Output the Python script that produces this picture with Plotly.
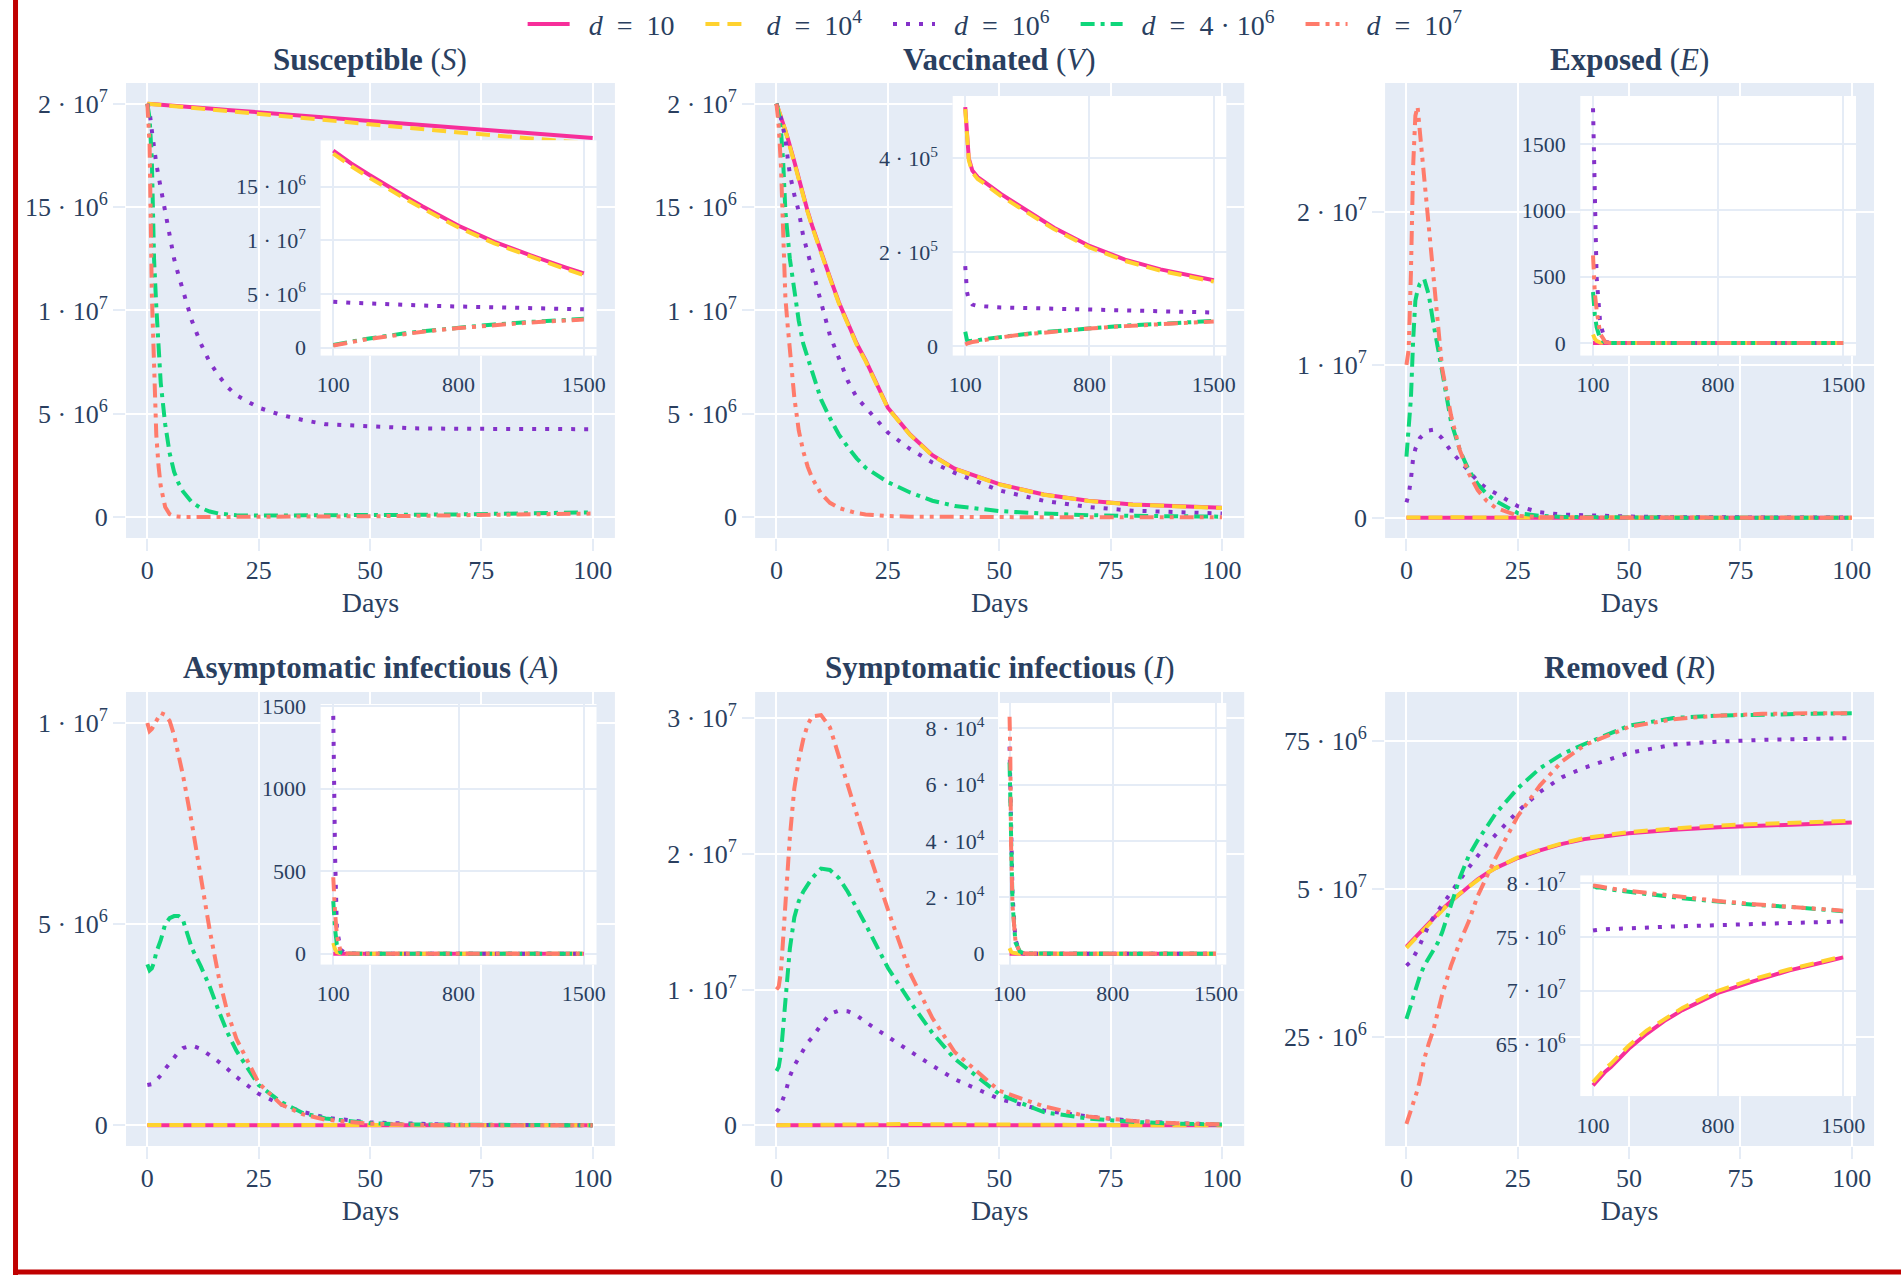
import plotly.graph_objects as go

# ---------------- data ----------------
T = [0, 0.5, 1, 1.5, 2, 2.5, 3, 4, 5, 6, 7, 8, 10, 12, 14, 16, 18, 20, 25, 30, 35, 40, 50, 60, 70, 80, 90, 100]
D = [100, 105, 110, 120, 140, 170, 200, 300, 400, 500, 600, 800, 1000, 1200, 1400, 1500]

# Susceptible (millions)
S_d10 = [20.00, 20.00, 19.98, 19.98, 19.97, 19.96, 19.95, 19.93, 19.92, 19.90, 19.88, 19.87, 19.83, 19.80, 19.77, 19.73, 19.70, 19.67, 19.58, 19.50, 19.42, 19.33, 19.16, 19.00, 18.83, 18.67, 18.50, 18.34]
S_d1e4 = [20.00, 19.99, 19.98, 19.97, 19.96, 19.95, 19.94, 19.92, 19.90, 19.88, 19.86, 19.84, 19.80, 19.76, 19.72, 19.68, 19.64, 19.60, 19.50, 19.40, 19.30, 19.20, 19.00, 18.80, 18.61, 18.43, 18.25, 18.07]
S_d1e6 = [20.0, 19.6, 18.7, 17.8, 17.1, 16.5, 15.9, 14.9, 13.6, 12.5, 11.7, 11.0, 9.5, 8.4, 7.5, 6.85, 6.3, 5.9, 5.3, 4.95, 4.7, 4.5, 4.38, 4.3, 4.28, 4.27, 4.26, 4.26]
S_d4e6 = [20.0, 19.3, 17.3, 12.5, 10.2, 8.2, 6.5, 4.5, 3.1, 2.2, 1.65, 1.25, 0.72, 0.45, 0.28, 0.18, 0.12, 0.1, 0.08, 0.08, 0.08, 0.09, 0.1, 0.12, 0.14, 0.17, 0.2, 0.24]
S_d1e7 = [20.0, 18.0, 10.8, 7.0, 4.0, 2.5, 1.5, 0.5, 0.15, 0.05, 0.02, 0.01, 0.01, 0.01, 0.01, 0.01, 0.01, 0.02, 0.02, 0.03, 0.03, 0.04, 0.05, 0.07, 0.09, 0.12, 0.15, 0.18]
S_in_d10 = [18.34, 18.28, 18.22, 18.1, 17.85, 17.5, 17.15, 16.1, 15.05, 14.1, 13.15, 11.35, 9.85, 8.6, 7.45, 6.9]
S_in_d1e4 = [18.07, 18.01, 17.95, 17.83, 17.6, 17.25, 16.9, 15.85, 14.82, 13.88, 12.95, 11.18, 9.7, 8.47, 7.3, 6.75]
S_in_d1e6 = [4.26, 4.25, 4.25, 4.24, 4.22, 4.2, 4.17, 4.09, 4.02, 3.96, 3.91, 3.82, 3.74, 3.67, 3.6, 3.56]
S_in_d4e6 = [0.24, 0.26, 0.28, 0.31, 0.37, 0.46, 0.55, 0.84, 1.1, 1.32, 1.52, 1.87, 2.15, 2.38, 2.58, 2.67]
S_in_d1e7 = [0.18, 0.2, 0.22, 0.26, 0.32, 0.41, 0.5, 0.8, 1.05, 1.27, 1.47, 1.82, 2.1, 2.33, 2.52, 2.6]

# Vaccinated (millions; inset in 1e5)
V_d10 = [20.0, 19.7, 19.4, 19.0, 18.7, 18.35, 18.0, 17.2, 16.4, 15.5, 14.8, 14.1, 12.8, 11.6, 10.4, 9.4, 8.4, 7.6, 5.3, 4.0, 3.0, 2.35, 1.6, 1.1, 0.8, 0.62, 0.52, 0.46]
V_d1e4 = [20.0, 19.7, 19.4, 19.0, 18.7, 18.3, 17.95, 17.15, 16.35, 15.45, 14.75, 14.05, 12.75, 11.55, 10.35, 9.35, 8.35, 7.55, 5.28, 3.98, 2.98, 2.34, 1.59, 1.09, 0.79, 0.61, 0.51, 0.45]
V_d1e6 = [20.0, 19.7, 19.3, 18.8, 18.3, 17.4, 16.6, 15.6, 14.8, 13.6, 12.8, 12.1, 10.4, 8.8, 7.7, 6.6, 5.8, 5.3, 4.1, 3.3, 2.65, 2.15, 1.3, 0.8, 0.5, 0.32, 0.24, 0.18]
V_d4e6 = [20.0, 19.5, 18.7, 17.2, 14.8, 13.6, 12.5, 11.0, 9.5, 8.4, 7.7, 7.1, 5.7, 4.8, 4.0, 3.4, 2.85, 2.4, 1.7, 1.2, 0.8, 0.55, 0.3, 0.18, 0.1, 0.07, 0.04, 0.03]
V_d1e7 = [20.0, 18.9, 17.0, 13.0, 10.6, 9.3, 8.2, 5.8, 4.2, 3.2, 2.45, 1.9, 1.15, 0.7, 0.45, 0.3, 0.2, 0.14, 0.06, 0.03, 0.02, 0.01, 0.01, 0.0, 0.0, 0.0, 0.0, 0.0]
V_in_d10 = [5.09, 4.75, 4.45, 4.0, 3.74, 3.6, 3.52, 3.24, 3.0, 2.76, 2.52, 2.13, 1.84, 1.63, 1.47, 1.40]
V_in_d1e4 = [5.05, 4.71, 4.41, 3.96, 3.7, 3.56, 3.48, 3.2, 2.96, 2.72, 2.49, 2.1, 1.81, 1.6, 1.44, 1.37]
V_in_d1e6 = [1.70, 1.35, 1.15, 0.98, 0.88, 0.85, 0.84, 0.82, 0.81, 0.8, 0.79, 0.77, 0.75, 0.73, 0.72, 0.71]
V_in_d4e6 = [0.30, 0.18, 0.12, 0.1, 0.1, 0.12, 0.14, 0.19, 0.24, 0.28, 0.31, 0.38, 0.43, 0.47, 0.51, 0.53]
V_in_d1e7 = [0.03, 0.04, 0.05, 0.06, 0.08, 0.1, 0.12, 0.18, 0.23, 0.27, 0.3, 0.37, 0.42, 0.46, 0.5, 0.52]

# Exposed (millions; inset raw)
E_d10 = [0.0, 0.0, 0.0, 0.0, 0.0, 0.0, 0.0, 0.0, 0.0, 0.0, 0.0, 0.0, 0.0, 0.0, 0.0, 0.0, 0.0, 0.0, 0.0, 0.0, 0.0, 0.0, 0.0, 0.0, 0.0, 0.0, 0.0, 0.0]
E_d1e4 = [0.01, 0.013, 0.018, 0.022, 0.026, 0.029, 0.031, 0.033, 0.033, 0.032, 0.03, 0.028, 0.024, 0.02, 0.017, 0.014, 0.012, 0.01, 0.006, 0.004, 0.002, 0.001, 0.0005, 0.0002, 0.0001, 0.0001, 0.0001, 0.0001]
E_d1e6 = [1.0, 1.5, 2.5, 3.9, 4.5, 4.9, 5.2, 5.5, 5.7, 5.75, 5.5, 5.2, 4.35, 3.7, 3.1, 2.4, 1.9, 1.6, 0.75, 0.35, 0.2, 0.15, 0.07, 0.03, 0.02, 0.01, 0.01, 0.0]
E_d4e6 = [4.0, 5.6, 7.8, 11.6, 14.2, 14.9, 15.3, 15.6, 14.6, 12.8, 11.3, 9.6, 6.3, 4.4, 3.1, 2.2, 1.55, 1.1, 0.3, 0.12, 0.05, 0.02, 0.01, 0.0, 0.0, 0.0, 0.0, 0.0]
E_d1e7 = [10.0, 11.0, 16.0, 23.0, 26.3, 26.9, 25.3, 22.3, 19.2, 16.1, 12.8, 9.8, 6.7, 4.4, 2.9, 1.8, 1.1, 0.65, 0.12, 0.03, 0.01, 0.0, 0.0, 0.0, 0.0, 0.0, 0.0, 0.0]
E_in_d10 = [0.06, 0.04, 0.03, 0.01, 0.0, 0.0, 0.0, 0.0, 0.0, 0.0, 0.0, 0.0, 0.0, 0.0, 0.0, 0.0]
E_in_d1e4 = [64, 45, 32, 16, 4, 0.5, 0.05, 0, 0, 0, 0, 0, 0, 0, 0, 0]
E_in_d1e6 = [1770, 1350, 930, 500, 150, 8, 0.5, 0, 0, 0, 0, 0, 0, 0, 0, 0]
E_in_d4e6 = [385, 290, 215, 120, 30, 3, 0.2, 0, 0, 0, 0, 0, 0, 0, 0, 0]
E_in_d1e7 = [660, 500, 380, 250, 70, 6, 0.5, 0, 0, 0, 0, 0, 0, 0, 0, 0]

# Asymptomatic infectious (millions; inset raw)
A_d10 = [0.0, 0.0, 0.0, 0.0, 0.0, 0.0, 0.0, 0.0, 0.0, 0.0, 0.0, 0.0, 0.0, 0.0, 0.0, 0.0, 0.0, 0.0, 0.0, 0.0, 0.0, 0.0, 0.0, 0.0, 0.0, 0.0, 0.0, 0.0]
A_d1e4 = [0.01, 0.01, 0.012, 0.014, 0.016, 0.018, 0.02, 0.022, 0.024, 0.025, 0.025, 0.025, 0.023, 0.02, 0.017, 0.014, 0.012, 0.01, 0.006, 0.004, 0.002, 0.001, 0.0005, 0.0002, 0.0001, 0.0001, 0.0001, 0.0001]
A_d1e6 = [1.0, 1.0, 1.02, 1.06, 1.12, 1.18, 1.24, 1.4, 1.55, 1.7, 1.82, 1.92, 1.98, 1.9, 1.75, 1.58, 1.4, 1.2, 0.78, 0.52, 0.33, 0.19, 0.07, 0.03, 0.01, 0.01, 0.0, 0.0]
A_d4e6 = [4.0, 3.85, 3.9, 4.05, 4.3, 4.45, 4.6, 5.0, 5.15, 5.2, 5.2, 5.1, 4.4, 3.95, 3.45, 2.85, 2.3, 1.85, 1.0, 0.58, 0.3, 0.17, 0.05, 0.02, 0.01, 0.0, 0.0, 0.0]
A_d1e7 = [10.0, 9.8, 9.85, 9.95, 10.1, 10.2, 10.25, 10.2, 10.05, 9.7, 9.2, 8.7, 7.5, 6.2, 4.85, 3.7, 2.8, 2.15, 1.05, 0.52, 0.27, 0.14, 0.04, 0.01, 0.0, 0.0, 0.0, 0.0]
A_in_d10 = [0.1, 0.06, 0.04, 0.02, 0.0, 0.0, 0.0, 0.0, 0.0, 0.0, 0.0, 0.0, 0.0, 0.0, 0.0, 0.0]
A_in_d1e4 = [65, 42, 28, 10, 2, 0, 0, 0, 0, 0, 0, 0, 0, 0, 0, 0]
A_in_d1e6 = [1440, 950, 600, 160, 25, 1, 0, 0, 0, 0, 0, 0, 0, 0, 0, 0]
A_in_d4e6 = [318, 220, 150, 55, 8, 0.5, 0, 0, 0, 0, 0, 0, 0, 0, 0, 0]
A_in_d1e7 = [463, 340, 250, 110, 18, 1, 0, 0, 0, 0, 0, 0, 0, 0, 0, 0]

# Symptomatic infectious (millions; inset in 1e3)
I_d10 = [0.0, 0.0, 0.0, 0.0, 0.0, 0.0, 0.0, 0.0, 0.0, 0.0, 0.0, 0.0, 0.0, 0.0, 0.0, 0.0, 0.0, 0.0, 0.0, 0.0, 0.0, 0.0, 0.0, 0.0, 0.0, 0.0, 0.0, 0.0]
I_d1e4 = [0.01, 0.012, 0.015, 0.02, 0.025, 0.03, 0.035, 0.045, 0.055, 0.065, 0.075, 0.085, 0.1, 0.11, 0.115, 0.12, 0.12, 0.118, 0.11, 0.1, 0.085, 0.07, 0.05, 0.03, 0.02, 0.01, 0.005, 0.002]
I_d1e6 = [1.0, 1.2, 1.55, 1.95, 2.4, 3.0, 3.6, 4.4, 5.0, 5.6, 6.1, 6.45, 7.4, 8.2, 8.45, 8.4, 8.1, 7.6, 6.5, 5.45, 4.4, 3.4, 1.95, 1.1, 0.65, 0.33, 0.15, 0.07]
I_d4e6 = [4.0, 4.3, 5.3, 7.4, 9.7, 11.5, 13.0, 15.3, 16.5, 17.2, 17.7, 18.2, 18.9, 18.8, 18.2, 17.2, 16.0, 14.8, 11.6, 9.1, 6.8, 4.9, 2.3, 0.97, 0.5, 0.26, 0.12, 0.07]
I_d1e7 = [10.0, 10.2, 11.3, 13.9, 16.6, 19.0, 21.2, 24.8, 26.9, 28.4, 29.5, 30.1, 30.2, 29.3, 27.2, 24.9, 22.9, 20.8, 15.9, 11.2, 7.9, 5.4, 2.55, 1.4, 0.65, 0.33, 0.15, 0.08]
I_in_d10 = [0.002, 0.001, 0.0, 0.0, 0.0, 0.0, 0.0, 0.0, 0.0, 0.0, 0.0, 0.0, 0.0, 0.0, 0.0, 0.0]
I_in_d1e4 = [2.0, 1.2, 0.8, 0.4, 0.1, 0.0, 0.0, 0.0, 0.0, 0.0, 0.0, 0.0, 0.0, 0.0, 0.0, 0.0]
I_in_d1e6 = [73.5, 59, 39, 21, 5, 0.5, 0, 0, 0, 0, 0, 0, 0, 0, 0, 0]
I_in_d4e6 = [67.9, 52, 35, 18, 4, 0.8, 0.1, 0, 0, 0, 0, 0, 0, 0, 0, 0]
I_in_d1e7 = [84.1, 71, 39, 17, 4.5, 0.4, 0.05, 0, 0, 0, 0, 0, 0, 0, 0, 0]

# Removed (millions)
R_d10 = [40.2, 40.6, 41.0, 41.4, 41.8, 42.1, 42.4, 43.2, 44.0, 45.0, 45.7, 46.5, 47.9, 49.2, 50.4, 51.6, 52.6, 53.5, 55.2, 56.5, 57.6, 58.4, 59.4, 60.0, 60.4, 60.7, 61.0, 61.2]
R_d1e4 = [40.0, 40.4, 40.9, 41.3, 41.7, 42.0, 42.4, 43.2, 44.0, 44.9, 45.7, 46.5, 47.9, 49.2, 50.4, 51.6, 52.6, 53.5, 55.3, 56.6, 57.7, 58.6, 59.6, 60.2, 60.7, 61.0, 61.3, 61.5]
R_d1e6 = [37.0, 37.3, 37.7, 38.3, 38.9, 39.7, 40.5, 42.3, 43.8, 45.1, 46.2, 47.2, 49.4, 51.5, 53.6, 55.6, 57.5, 59.1, 63.1, 66.4, 68.9, 70.5, 73.0, 74.4, 74.9, 75.2, 75.4, 75.5]
R_d4e6 = [28.0, 29.0, 30.3, 31.6, 32.8, 34.0, 35.2, 37.0, 38.3, 39.5, 40.8, 42.6, 47.5, 51.9, 55.6, 58.2, 60.4, 62.7, 67.0, 70.4, 72.8, 74.5, 77.6, 78.9, 79.3, 79.5, 79.6, 79.7]
R_d1e7 = [10.2, 11.3, 12.3, 13.4, 14.5, 16.0, 17.5, 21.2, 23.8, 26.0, 29.0, 32.0, 37.0, 41.0, 44.5, 48.8, 52.0, 55.2, 62.3, 67.5, 71.6, 74.3, 77.4, 78.7, 79.3, 79.6, 79.7, 79.7]
R_in_d10 = [61.2, 61.3, 61.4, 61.6, 62.0, 62.5, 62.9, 64.6, 66.0, 67.2, 68.2, 69.8, 70.9, 71.9, 72.7, 73.1]
R_in_d1e4 = [61.5, 61.6, 61.7, 61.9, 62.3, 62.8, 63.2, 64.9, 66.3, 67.4, 68.4, 70.0, 71.1, 72.0, 72.8, 73.2]
R_in_d1e6 = [75.6, 75.6, 75.65, 75.65, 75.7, 75.7, 75.75, 75.8, 75.9, 75.95, 76.0, 76.1, 76.2, 76.3, 76.4, 76.45]
R_in_d4e6 = [79.7, 79.7, 79.7, 79.6, 79.6, 79.5, 79.4, 79.2, 79.0, 78.8, 78.6, 78.3, 78.0, 77.8, 77.5, 77.4]
R_in_d1e7 = [79.8, 79.8, 79.8, 79.75, 79.7, 79.6, 79.5, 79.3, 79.1, 78.9, 78.7, 78.35, 78.05, 77.8, 77.55, 77.45]

SERIES_NAMES = [
    "<i>d</i>&nbsp;&nbsp;=&nbsp;&nbsp;10",
    "<i>d</i>&nbsp;&nbsp;=&nbsp;&nbsp;10<sup>4</sup>",
    "<i>d</i>&nbsp;&nbsp;=&nbsp;&nbsp;10<sup>6</sup>",
    "<i>d</i>&nbsp;&nbsp;=&nbsp;&nbsp;4 · 10<sup>6</sup>",
    "<i>d</i>&nbsp;&nbsp;=&nbsp;&nbsp;10<sup>7</sup>",
]
MAIN_X_TICKS = [0, 25, 50, 75, 100]
INSET_X_TICKS = [100, 800, 1500]

# ---------------- style ----------------
FONT = "Liberation Serif"
NAVY = "#2a3f5f"
BG = "#E5ECF6"
COLORS = ["#F72E9A", "#FFD22E", "#8431C9", "#0ED67A", "#FF7B6B"]
DASHES = ["solid", "14px,8px", "4px,9px", "14px,6px,4px,6px", "14px,6px,4px,6px,4px,6px"]
LW = 4

COLS = [[0.0, 0.2797], [0.3599, 0.6397], [0.7203, 1.0]]
ROWS = [[0.572, 1.0], [0.0, 0.4271]]
INSET_X_RANGE = [28, 1572]


def sup(a, e):
    return f"{a} · 10<sup>{e}</sup>"


panels = [
    dict(title="<b>Susceptible</b> (<i>S</i>)", col=0, row=0,
         main=[S_d10, S_d1e4, S_d1e6, S_d4e6, S_d1e7],
         inset=[S_in_d10, S_in_d1e4, S_in_d1e6, S_in_d4e6, S_in_d1e7],
         yr=[-1.0, 21.0], ytv=[0, 5, 10, 15, 20],
         ytt=["0", sup(5, 6), sup(1, 7), sup(15, 6), sup(2, 7)],
         iyr=[-0.76, 19.31], iytv=[0, 5, 10, 15],
         iytt=["0", sup(5, 6), sup(1, 7), sup(15, 6)],
         ix=[0.1112, 0.2693], iy=[0.7435, 0.9461]),
    dict(title="<b>Vaccinated</b> (<i>V</i>)", col=1, row=0,
         main=[V_d10, V_d1e4, V_d1e6, V_d4e6, V_d1e7],
         inset=[V_in_d10, V_in_d1e4, V_in_d1e6, V_in_d4e6, V_in_d1e7],
         yr=[-1.0, 21.0], ytv=[0, 5, 10, 15, 20],
         ytt=["0", sup(5, 6), sup(1, 7), sup(15, 6), sup(2, 7)],
         iyr=[-0.21, 5.33], iytv=[0, 2, 4],
         iytt=["0", sup(2, 5), sup(4, 5)],
         ix=[0.4728, 0.6296], iy=[0.7435, 0.9878]),
    dict(title="<b>Exposed</b> (<i>E</i>)", col=2, row=0,
         main=[E_d10, E_d1e4, E_d1e6, E_d4e6, E_d1e7],
         inset=[E_in_d10, E_in_d1e4, E_in_d1e6, E_in_d4e6, E_in_d1e7],
         yr=[-1.33, 28.45], ytv=[0, 10, 20],
         ytt=["0", sup(1, 7), sup(2, 7)],
         iyr=[-95, 1862], iytv=[0, 500, 1000, 1500],
         iytt=["0", "500", "1000", "1500"],
         ix=[0.8319, 0.9897], iy=[0.7435, 0.9878]),
    dict(title="<b>Asymptomatic infectious</b> (<i>A</i>)", col=0, row=1,
         main=[A_d10, A_d1e4, A_d1e6, A_d4e6, A_d1e7],
         inset=[A_in_d10, A_in_d1e4, A_in_d1e6, A_in_d4e6, A_in_d1e7],
         yr=[-0.515, 10.77], ytv=[0, 5, 10],
         ytt=["0", sup(5, 6), sup(1, 7)],
         iyr=[-67.5, 1512], iytv=[0, 500, 1000, 1500],
         iytt=["0", "500", "1000", "1500"],
         ix=[0.1112, 0.2693], iy=[0.1704, 0.4158]),
    dict(title="<b>Symptomatic infectious</b> (<i>I</i>)", col=1, row=1,
         main=[I_d10, I_d1e4, I_d1e6, I_d4e6, I_d1e7],
         inset=[I_in_d10, I_in_d1e4, I_in_d1e6, I_in_d4e6, I_in_d1e7],
         yr=[-1.52, 31.9], ytv=[0, 10, 20, 30],
         ytt=["0", sup(1, 7), sup(2, 7), sup(3, 7)],
         iyr=[-3.94, 89.0], iytv=[0, 20, 40, 60, 80],
         iytt=["0", sup(2, 4), sup(4, 4), sup(6, 4), sup(8, 4)],
         ix=[0.4994, 0.6296], iy=[0.1704, 0.4168]),
    dict(title="<b>Removed</b> (<i>R</i>)", col=2, row=1,
         main=[R_d10, R_d1e4, R_d1e6, R_d4e6, R_d1e7],
         inset=[R_in_d10, R_in_d1e4, R_in_d1e6, R_in_d4e6, R_in_d1e7],
         yr=[6.47, 83.3], ytv=[25, 50, 75],
         ytt=[sup(25, 6), sup(5, 7), sup(75, 6)],
         iyr=[60.19, 80.74], iytv=[65, 70, 75, 80],
         iytt=[sup(65, 6), sup(7, 7), sup(75, 6), sup(8, 7)],
         ix=[0.8319, 0.9897], iy=[0.0468, 0.2547]),
]

fig = go.Figure()
layout = {}
shapes = []
annotations = []

axis_common = dict(
    ticks="outside", ticklen=12, tickwidth=2, tickcolor=BG,
    showline=False, zeroline=False, automargin=False,
)

for i, p in enumerate(panels):
    k = i + 1          # main axes id
    m = i + 7          # inset axes id
    xa_main = "x" if k == 1 else f"x{k}"
    ya_main = "y" if k == 1 else f"y{k}"
    for j in range(5):
        fig.add_trace(go.Scatter(
            x=T, y=p["main"][j], mode="lines",
            name="&nbsp;&nbsp;" + SERIES_NAMES[j] + "&nbsp;&nbsp;&nbsp;",
            legendgroup=f"g{j}", showlegend=(i == 0),
            line=dict(color=COLORS[j], width=LW, dash=DASHES[j]),
            xaxis=xa_main, yaxis=ya_main,
        ))
    for j in range(5):
        fig.add_trace(go.Scatter(
            x=D, y=p["inset"][j], mode="lines", name=SERIES_NAMES[j],
            legendgroup=f"g{j}", showlegend=False,
            line=dict(color=COLORS[j], width=LW, dash=DASHES[j]),
            xaxis=f"x{m}", yaxis=f"y{m}",
        ))

    layout[f"xaxis{k}"] = dict(
        domain=COLS[p["col"]], anchor=f"y{k}", range=[-4.8, 105],
        tickvals=MAIN_X_TICKS, gridcolor="white", gridwidth=2,
        tickfont=dict(size=26, family=FONT, color=NAVY), ticklabelstandoff=-3,
        title=dict(text="Days", font=dict(size=28, family=FONT, color=NAVY), standoff=8),
        **axis_common)
    layout[f"yaxis{k}"] = dict(
        domain=ROWS[p["row"]], anchor=f"x{k}", range=p["yr"],
        tickvals=p["ytv"], ticktext=p["ytt"], gridcolor="white", gridwidth=2,
        tickfont=dict(size=26, family=FONT, color=NAVY),
        **axis_common)
    layout[f"xaxis{m}"] = dict(
        domain=p["ix"], anchor=f"y{m}", range=INSET_X_RANGE,
        tickvals=INSET_X_TICKS, gridcolor=BG, gridwidth=2,
        tickfont=dict(size=22, family=FONT, color=NAVY), ticklabelstandoff=-3,
        **axis_common)
    layout[f"yaxis{m}"] = dict(
        domain=p["iy"], anchor=f"x{m}", range=p["iyr"],
        tickvals=p["iytv"], ticktext=p["iytt"], gridcolor=BG, gridwidth=2,
        tickfont=dict(size=22, family=FONT, color=NAVY), ticklabelstandoff=-3,
        **axis_common)

    shapes.append(dict(
        type="rect", xref=f"x{m}", yref=f"y{m}",
        x0=INSET_X_RANGE[0], x1=INSET_X_RANGE[1], y0=p["iyr"][0], y1=p["iyr"][1],
        fillcolor="white", line=dict(width=0), layer="below"))

    cx = (COLS[p["col"]][0] + COLS[p["col"]][1]) / 2
    ty = 1.0217 if p["row"] == 0 else 0.4497
    annotations.append(dict(
        text=p["title"], x=cx, y=ty, xref="paper", yref="paper",
        xanchor="center", yanchor="middle", showarrow=False,
        font=dict(size=31, family=FONT, color=NAVY)))

# red frame on the left and bottom edges of the page
shapes.append(dict(type="line", xref="paper", yref="paper",
                   x0=-0.0632, x1=-0.0632, y0=-0.125, y1=1.08,
                   line=dict(color="#C00000", width=5), layer="above"))
shapes.append(dict(type="line", xref="paper", yref="paper",
                   x0=-0.0646, x1=1.02, y0=-0.1185, y1=-0.1185,
                   line=dict(color="#C00000", width=5), layer="above"))

layout["xaxis"] = layout.pop("xaxis1")
layout["yaxis"] = layout.pop("yaxis1")

fig.update_layout(
    width=1901, height=1275,
    margin=dict(l=126, r=27, t=83, b=129),
    plot_bgcolor=BG, paper_bgcolor="white",
    font=dict(family=FONT, color=NAVY, size=24),
    showlegend=True,
    legend=dict(orientation="h", xref="container", yref="container",
                x=0.529, xanchor="center", y=0.981, yanchor="middle",
                font=dict(size=28, family=FONT, color=NAVY), itemwidth=42,
                bgcolor="rgba(0,0,0,0)"),
    shapes=shapes, annotations=annotations,
    **layout,
)

fig.write_html("out.html")
